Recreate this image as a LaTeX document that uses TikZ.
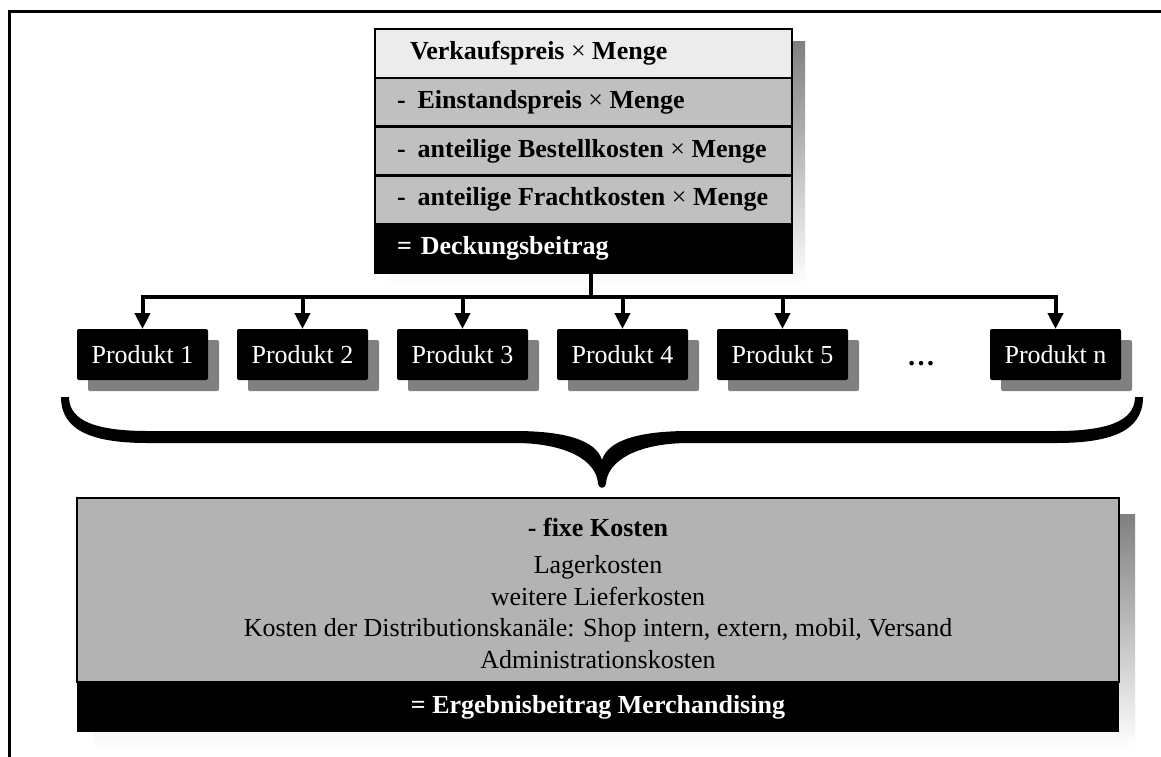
\documentclass[tikz,border=0pt]{standalone}
\usepackage{fontspec}
\setmainfont{Liberation Serif}
\usetikzlibrary{arrows.meta,backgrounds,shadows}
\definecolor{shade}{HTML}{808080}
\definecolor{lightrow}{HTML}{ECECEC}
\definecolor{midrow}{HTML}{C0C0C0}
\definecolor{fixgray}{HTML}{B3B3B3}

\newcommand{\rowtext}[1]{\makebox[373pt][l]{#1}}

\begin{document}
\begin{tikzpicture}[x=1pt,y=-1pt,
  txt/.style={font=\fontsize{26}{30}\selectfont},
  row/.style={draw=black, line width=2.5pt, minimum height=48.8pt,
    minimum width=417pt, anchor=north west, inner xsep=22pt, inner ysep=0pt,
    outer sep=0pt, font=\bfseries\fontsize{26}{30}\selectfont},
  prod/.style={fill=black, text=white, rounded corners=2pt, minimum width=131pt,
    minimum height=51pt, inner sep=0pt, outer sep=0pt, txt,
    general shadow={fill=shade, shadow xshift=11pt, shadow yshift=-11pt}},
  conn/.style={line width=4pt},
  tip/.style={-{Triangle[width=15pt,length=16pt]}},
]
\useasboundingbox (0,0) rectangle (1161,756);

% outer frame
\draw[line width=3pt] (9.5,11) rectangle (1180,780);

% calculation per product
\node[row, fill=lightrow] (r1) at (375,29) {\rowtext{\hspace*{13pt}Verkaufspreis {\mdseries×} Menge}};
\node[row, fill=midrow] (r2) at (r1.south west) {\rowtext{-\hspace{12pt}Einstandspreis {\mdseries×} Menge}};
\node[row, fill=midrow] (r3) at (r2.south west) {\rowtext{-\hspace{12pt}anteilige Bestellkosten {\mdseries×} Menge}};
\node[row, fill=midrow] (r4) at (r3.south west) {\rowtext{-\hspace{12pt}anteilige Frachtkosten {\mdseries×} Menge}};
\node[row, fill=black, text=white] (r5) at (r4.south west) {\rowtext{=\hspace{9pt}Deckungsbeitrag}};

% products
\node[prod] (p1) at (142.5,354.5) {Produkt 1};
\node[prod] (p2) at (302.5,354.5) {Produkt 2};
\node[prod] (p3) at (462.5,354.5) {Produkt 3};
\node[prod] (p4) at (622.5,354.5) {Produkt 4};
\node[prod] (p5) at (782.5,354.5) {Produkt 5};
\node[prod] (pn) at (1055.5,354.5) {Produkt n};
\node[font=\bfseries\fontsize{28}{30}\selectfont] (dots) at (921,364) {…};

% distribution lines
\draw[conn] ([xshift=7.5pt]r5.south) -- ++(0,24) coordinate (hub);
\draw[conn, line cap=rect] (p1.north |- hub) -- (pn.north |- hub);
\foreach \p in {p1,p2,p3,p4,p5,pn}
  \draw[conn, tip] (\p.north |- hub) -- (\p.north);

% brace
\fill (61,397) .. controls (61,432) and (95,443) .. (148,443)
  -- (515,443) .. controls (565,443) and (597,460) .. (598,484)
  .. controls (599,489) and (605,489) .. (606,484)
  .. controls (607,460) and (639,443) .. (689,443)
  -- (1056,443) .. controls (1109,443) and (1143,432) .. (1143,397)
  -- (1135,397) .. controls (1135,422) and (1105,431) .. (1056,431)
  -- (689,431) .. controls (640,431) and (608,440) .. (602,460)
  .. controls (596,440) and (564,431) .. (515,431)
  -- (148,431) .. controls (99,431) and (69,422) .. (69,397) -- cycle;

% fixed costs and result
\node[draw=black, line width=2.5pt, fill=fixgray, anchor=north west, outer sep=0pt,
  minimum width=1042pt, minimum height=184pt, inner sep=0pt] (fix) at (77,498) {};
\node[align=center, inner sep=0pt, font=\fontsize{26}{31.5}\selectfont]
  (fixtext) at (598,593)
  {\textbf{- fixe Kosten}\\[6pt]
   Lagerkosten\\
   weitere Lieferkosten\\
   Kosten der Distributionskanäle: Shop intern, extern, mobil, Versand\\
   Administrationskosten};
\node[fill=black, text=white, anchor=north west, minimum width=1042pt, outer sep=0pt,
  minimum height=50pt, inner sep=0pt, font=\bfseries\fontsize{26}{30}\selectfont]
  (res) at (fix.south west) {= Ergebnisbeitrag Merchandising};

% shadows of the grouped boxes
\begin{pgfonlayer}{background}
  \fill[white] (0,0) rectangle (1161,756);
  \fill[shade] ([shift={(13,12)}]r1.north west) rectangle ([shift={(13,12)}]r5.south east);
  \fill[shade] ([shift={(16,16)}]fix.north west) rectangle ([shift={(16,16)}]res.south east);
\end{pgfonlayer}
\end{tikzpicture}
\end{document}
